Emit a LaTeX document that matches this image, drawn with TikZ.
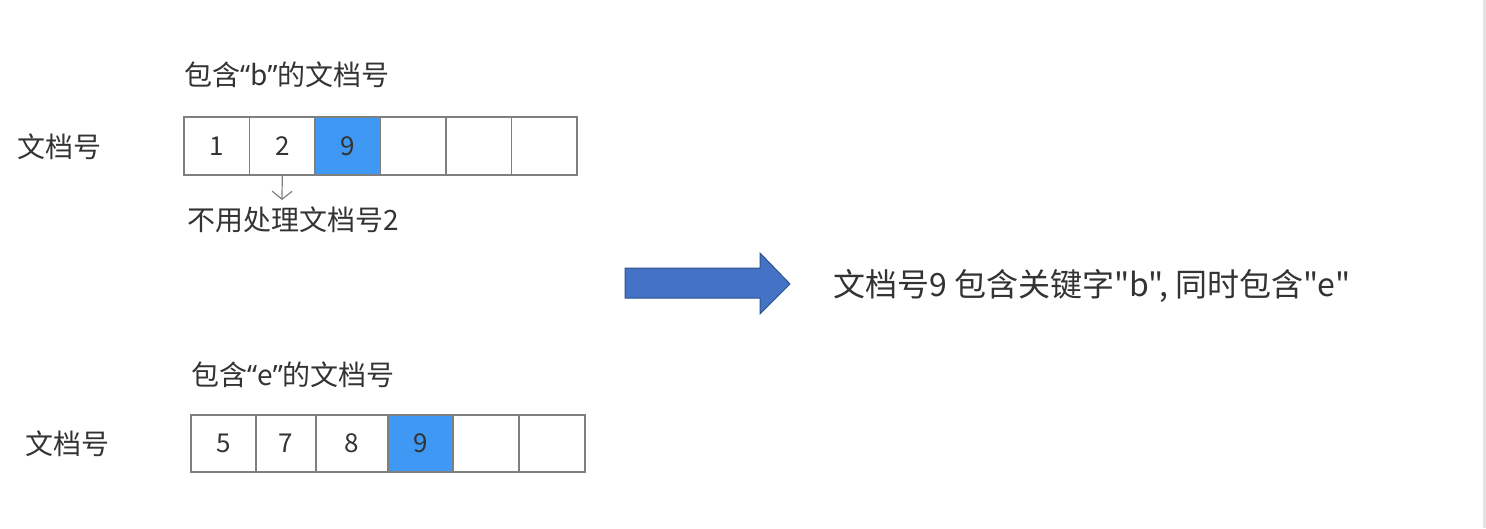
\documentclass[tikz,border=0pt]{standalone}
\usepackage{fontspec}
\newfontfamily\cjk{Noto Sans CJK SC}
\newfontfamily\latin{Noto Sans}
\usetikzlibrary{arrows.meta}
\definecolor{txtgray}{HTML}{333333}
\definecolor{cellline}{HTML}{7F7F7F}
\definecolor{hitblue}{HTML}{3F99F4}
\definecolor{arrowblue}{HTML}{4472C4}
\definecolor{arrowedge}{HTML}{2F528F}
\newcommand{\openq}{{\latin “}}
\newcommand{\closeq}{{\latin ”}}

\begin{document}
\begin{tikzpicture}[x=1pt,y=-1pt,
    cell/.style={draw=cellline,line width=1.6pt,minimum height=58pt,inner sep=0pt,
      text=txtgray,font=\cjk\fontsize{26}{30}\selectfont},
    lbl/.style={anchor=west,inner sep=0pt,text=txtgray,font=\cjk\fontsize{28}{34}\selectfont}]
    \useasboundingbox (0,0) rectangle (1486,528);
    \fill[black!11] (1483,0) rectangle (1486,528);
    % top row
    \node [lbl] (toplbl) at (184,75) {包含\openq b\closeq 的文档号};
    \node [lbl] (toprow) at (17,147) {文档号};
    \foreach \v/\c [count=\i] in {1/white,2/white,9/hitblue,/white,/white,/white}
    \node [cell,fill=\c,minimum width=65.5pt] (t\i) at ({184+65.5*(\i-0.5)},146) {\v};
    \coordinate (skiptip) at (282,200);
    \draw [cellline,line width=1.2pt,-{Straight Barb[length=8pt,width=20pt]}] (t2.south) -- (skiptip);
    \node [lbl] (skip) at (187,220) {不用处理文档号2};
    % bottom row
    \node [lbl] (botlbl) at (191,375) {包含\openq e\closeq 的文档号};
    \node [lbl] (botrow) at (25,444) {文档号};
    \foreach \v/\c/\x/\w [count=\i] in {5/white/223.5/65,7/white/286/60,8/white/352/72,9/hitblue/420.5/65,/white/486/66,/white/552/66}
    \node [cell,fill=\c,minimum width=\w pt,minimum height=57pt] (b\i) at (\x,443.5) {\v};
    % result
    \draw [arrowedge,fill=arrowblue,line width=1pt] (625,268) -- (760,268) -- (760,253) -- (790,284)
      -- (760,314) -- (760,298) -- (625,298) -- cycle;
    \node [lbl,font=\cjk\fontsize{32}{38}\selectfont] (result) at (833,286) {文档号9 包含关键字"b", 同时包含"e"};
\end{tikzpicture}
\end{document}
